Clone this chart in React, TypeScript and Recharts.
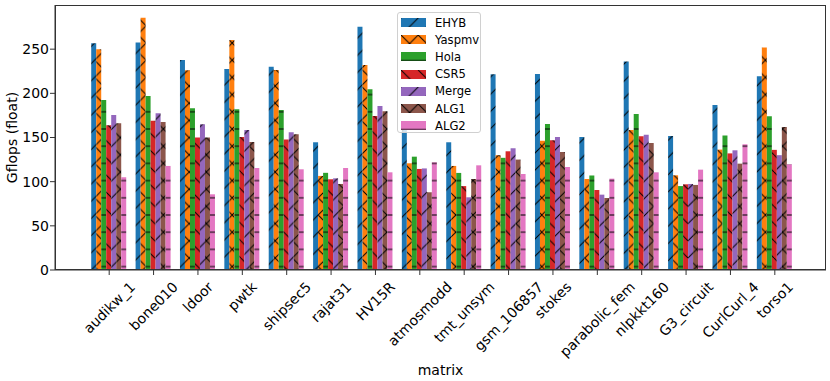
import React from 'react';
import { BarChart, Bar, XAxis, YAxis, Legend } from 'recharts';

// matrices on the x axis
const matrices = [
  'audikw_1', 'bone010', 'ldoor', 'pwtk', 'shipsec5', 'rajat31', 'HV15R', 'atmosmodd',
  'tmt_unsym', 'gsm_106857', 'stokes', 'parabolic_fem', 'nlpkkt160', 'G3_circuit', 'CurlCurl_4', 'torso1',
];

// Gflops (float) per method
const ehyb = [256.7, 257.5, 237.8, 227.6, 230, 144.6, 275.5, 165, 144.6, 221.6, 222, 150.6, 236, 151.8, 186.9, 219.3];
const yaspmv = [250, 285.7, 226, 260.5, 226.5, 106.5, 232, 120.8, 117.8, 130, 146.4, 103, 158.5, 107.2, 136.3, 252];
const hola = [192.5, 197, 183, 182, 181, 110, 204.6, 128.3, 109.9, 127, 165.3, 107, 176.7, 95, 152.4, 174];
const csr5 = [164, 169, 150, 150.6, 147.6, 102.7, 174.4, 114.4, 95, 134.4, 147, 90.6, 151.4, 97, 132, 136];
const merge = [175.5, 177.5, 165, 158.5, 156, 103.8, 185.7, 115, 82.3, 137.8, 150.6, 85.3, 153, 97.4, 135.5, 130];
const alg1 = [166, 167.6, 150, 145, 153.7, 97.4, 179.7, 88, 103, 125, 133.6, 81.5, 143.8, 96.3, 120.4, 162];
const alg2 = [105, 117.8, 85.7, 115.5, 114, 115.5, 110.6, 122, 118.5, 108.7, 116.6, 103.4, 110.6, 113.6, 142.3, 119.7];

const yTicks = [0, 50, 100, 150, 200, 250];

const series = [
  { key: 'EHYB', values: ehyb, color: '#1f77b4', hatch: '/' },
  { key: 'Yaspmv', values: yaspmv, color: '#ff7f0e', hatch: 'x' },
  { key: 'Hola', values: hola, color: '#2ca02c', hatch: '-' },
  { key: 'CSR5', values: csr5, color: '#d62728', hatch: '\\' },
  { key: 'Merge', values: merge, color: '#9467bd', hatch: '/' },
  { key: 'ALG1', values: alg1, color: '#8c564b', hatch: 'x' },
  { key: 'ALG2', values: alg2, color: '#e377c2', hatch: '-' },
];

const data = matrices.map((name, i) => {
  const row: any = { name };
  series.forEach((s) => { row[s.key] = s.values[i]; });
  return row;
});

const FONT = 'DejaVu Sans, sans-serif';
const S = 17.2; // hatch spacing

function hatchPath(h: string) {
  const up = `M${-S},${S} L${S},${-S} M0,${S * 2} L${S * 2},0 M0,${S} L${S},0`;
  const down = `M0,0 L${S},${S} M${-S},0 L0,${S} M${S},0 L${S * 2},${S}`;
  if (h === '/') return up;
  if (h === '\\') return down;
  if (h === 'x') return up + ' ' + down;
  return `M0,${S / 2} L${S},${S / 2}`;
}

function Patterns() {
  return (
    <svg width={0} height={0} style={{ position: 'absolute' }}>
      <defs>
        {series.map((s) => (
          <pattern key={s.key} id={`hatch-${s.key}`} width={S} height={S} patternUnits="userSpaceOnUse">
            <rect width={S} height={S} fill={s.color} />
            <path d={hatchPath(s.hatch)} stroke="#000" strokeWidth={1} fill="none" />
          </pattern>
        ))}
      </defs>
    </svg>
  );
}

let ctx: CanvasRenderingContext2D | null = null;
function textWidth(t: string) {
  if (!ctx) {
    ctx = document.createElement('canvas').getContext('2d');
    if (ctx) ctx.font = '14px DejaVu Sans';
  }
  return ctx ? ctx.measureText(t).width : t.length * 8;
}

function XTick({ x, y, payload }: any) {
  const label = payload.value;
  const h = ((textWidth(label) + 15) * Math.SQRT1_2);
  const cy = y + 2 + h / 2;
  return (
    <text x={x} y={cy} textAnchor="middle" dominantBaseline="central" fontSize={14}
      fontFamily={FONT} fill="#000" transform={`rotate(-45, ${x}, ${cy})`}>
      {label}
    </text>
  );
}

function LegendBox() {
  return (
    <div style={{
      width: 84, height: 121, border: '1px solid #d0d0d0', borderRadius: 3,
      background: 'rgba(255,255,255,0.8)', fontFamily: FONT, fontSize: 11.6, color: '#000',
      paddingTop: 1, boxSizing: 'border-box',
    }}>
      {series.map((s) => (
        <div key={s.key} style={{ display: 'flex', alignItems: 'center', height: 17.2 }}>
          <svg width={25} height={9} style={{ marginLeft: 3 }}>
            <rect width={25} height={9} fill={`url(#hatch-${s.key})`} />
          </svg>
          <span style={{ marginLeft: 9 }}>{s.key}</span>
        </div>
      ))}
    </div>
  );
}

export default function App() {
  return (
    <div style={{ position: 'absolute', left: 0, top: 0, width: 830, height: 381, background: '#fff' }}>
      <Patterns />
      <BarChart width={830} height={381} data={data} margin={{ top: 5, right: 4, left: 0, bottom: 0 }}
        barCategoryGap="9.5%" barGap={0}>
        <XAxis dataKey="name" interval={0} height={111} padding={{ left: 32, right: 29 }}
          stroke="#333" tickSize={5} tick={<XTick />}
          label={{ value: 'matrix', position: 'insideBottom', offset: 6, fontSize: 14, fontFamily: FONT, fill: '#000' }} />
        <YAxis width={55} domain={[0, 300]} ticks={yTicks} stroke="#333" tickSize={5} tickMargin={1}
          tick={{ fontSize: 14, fontFamily: FONT, fill: '#000' }}
          label={({ viewBox }: any) => (
            <text x={viewBox.x + 12} y={viewBox.y + viewBox.height / 2} textAnchor="middle" dominantBaseline="central"
              fontSize={14} fontFamily={FONT} fill="#000"
              transform={`rotate(-90, ${viewBox.x + 12}, ${viewBox.y + viewBox.height / 2})`}>
              Gflops (float)
            </text>
          )} />
        <Legend layout="horizontal" verticalAlign="middle" align="center" content={<LegendBox />}
          wrapperStyle={{ left: 397, top: 12, width: 84 }} />
        {series.map((s) => (
          <Bar key={s.key} dataKey={s.key} fill={`url(#hatch-${s.key})`} isAnimationActive={false} />
        ))}
      </BarChart>
      <div style={{ position: 'absolute', left: 55, top: 5, width: 771, height: 265, border: '1px solid #333',
        boxSizing: 'border-box', pointerEvents: 'none' }} />
    </div>
  );
}
